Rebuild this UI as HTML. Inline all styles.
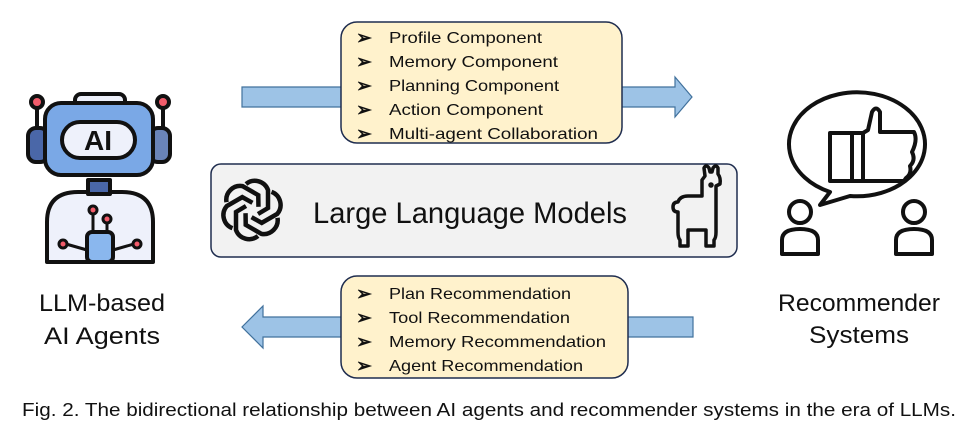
<!DOCTYPE html>
<html><head><meta charset="utf-8"><style>
html,body{margin:0;padding:0;background:#fff}
svg{display:block}
text{font-family:"Liberation Sans",sans-serif;fill:#111}
</style></head><body>
<svg width="975" height="428" viewBox="0 0 975 428" xmlns="http://www.w3.org/2000/svg">
<!-- top arrow -->
<polygon points="242,87 675,87 675,77 692,97 675,117 675,107 242,107" fill="#9dc3e6" stroke="#41719c" stroke-width="1.2"/>
<rect x="341" y="22" width="281" height="121" rx="16" fill="#fff2cc" stroke="#1f2d4f" stroke-width="1.5"/>
<g font-size="16">
<g font-size="19" font-weight="bold"><text x="356" y="44">➢</text><text x="356" y="68">➢</text><text x="356" y="92">➢</text><text x="356" y="116">➢</text><text x="356" y="140">➢</text></g>
<text x="389" y="43" textLength="153" lengthAdjust="spacingAndGlyphs">Profile Component</text>
<text x="389" y="67" textLength="169" lengthAdjust="spacingAndGlyphs">Memory Component</text>
<text x="389" y="91" textLength="170" lengthAdjust="spacingAndGlyphs">Planning Component</text>
<text x="389" y="115" textLength="154" lengthAdjust="spacingAndGlyphs">Action Component</text>
<text x="389" y="139" textLength="209" lengthAdjust="spacingAndGlyphs">Multi-agent Collaboration</text>
</g>
<!-- bottom arrow -->
<polygon points="693,317 263,317 263,306 242,327 263,348 263,337 693,337" fill="#9dc3e6" stroke="#41719c" stroke-width="1.2"/>
<rect x="341" y="276" width="287" height="102" rx="16" fill="#fff2cc" stroke="#1f2d4f" stroke-width="1.5"/>
<g font-size="16">
<g font-size="19" font-weight="bold"><text x="356" y="300">➢</text><text x="356" y="324">➢</text><text x="356" y="348">➢</text><text x="356" y="372">➢</text></g>
<text x="389" y="299" textLength="182" lengthAdjust="spacingAndGlyphs">Plan Recommendation</text>
<text x="389" y="323" textLength="181" lengthAdjust="spacingAndGlyphs">Tool Recommendation</text>
<text x="389" y="347" textLength="217" lengthAdjust="spacingAndGlyphs">Memory Recommendation</text>
<text x="389" y="371" textLength="194" lengthAdjust="spacingAndGlyphs">Agent Recommendation</text>
</g>
<!-- LLM box -->
<rect x="211" y="164" width="526" height="93" rx="10" fill="#f2f2f2" stroke="#1f2d4f" stroke-width="1.5"/>
<text x="313" y="223" font-size="30" textLength="314" lengthAdjust="spacingAndGlyphs">Large Language Models</text>
<!-- openai-like logo -->
<g transform="translate(252,210)" fill="none" stroke="#111" stroke-width="4.5">
<g id="pet"><path d="M-6,-26 a14,14 0 0 1 22,6 l0,18 l-10,6"/></g>
<use href="#pet" transform="rotate(60)"/><use href="#pet" transform="rotate(120)"/><use href="#pet" transform="rotate(180)"/><use href="#pet" transform="rotate(240)"/><use href="#pet" transform="rotate(300)"/>
</g>
<!-- llama -->
<g fill="none" stroke="#111" stroke-width="3.5" stroke-linejoin="round" stroke-linecap="round">
<path d="M705,176 l-1,-8 q2,-4 5,0 l1,4 l2,0 l1,-4 q3,-4 5,0 l0,6 q3,4 2,10 l-4,2 l0,46 q0,6 -2,8 l0,6 l-8,0 l0,-16 l-18,0 l0,16 l-8,0 l0,-6 q-2,-2 -2,-8 l0,-20 q-5,0 -5,-5 q0,-5 5,-5 q2,-6 10,-6 l14,0 l0,-16 z"/>
<circle cx="711" cy="185" r="1" fill="#111"/>
</g>
<!-- robot -->
<g stroke="#111" stroke-width="4" stroke-linejoin="round">
<line x1="37" y1="108" x2="37" y2="132"/><line x1="163" y1="108" x2="163" y2="132"/>
<circle cx="37" cy="102" r="6" fill="#f25c6b"/><circle cx="163" cy="102" r="6" fill="#f25c6b"/>
<rect x="28" y="128" width="20" height="34" rx="8" fill="#4a67a8"/>
<rect x="150" y="128" width="20" height="34" rx="8" fill="#6a84b8"/>
<path d="M47,262 L47,222 Q47,192 78,192 L122,192 Q153,192 153,222 L153,262 Z" fill="#eef1fb"/>
<rect x="88" y="180" width="22" height="14" fill="#4a67a8"/>
<rect x="75" y="94" width="50" height="14" rx="6" fill="#eef1fb"/>
<rect x="45" y="103" width="108" height="72" rx="16" fill="#7aa8e6"/>
<rect x="62" y="122" width="73" height="36" rx="18" fill="#eef1fb"/>
<rect x="87" y="232" width="26" height="30" rx="5" fill="#8ab7ee"/>
<path d="M93,232 L93,213 M107,232 L107,222 M87,250 L66,244 M113,250 L134,244" fill="none" stroke-width="3"/>
<circle cx="93" cy="210" r="4" fill="#f25c6b" stroke-width="3"/><circle cx="107" cy="219" r="4" fill="#f25c6b" stroke-width="3"/>
<circle cx="63" cy="244" r="4" fill="#f25c6b" stroke-width="3"/><circle cx="137" cy="244" r="4" fill="#f25c6b" stroke-width="3"/>
</g>
<text x="98" y="150" font-size="28" font-weight="bold" text-anchor="middle">AI</text>
<text x="102" y="311" font-size="24" text-anchor="middle" textLength="126" lengthAdjust="spacingAndGlyphs">LLM-based</text>
<text x="102" y="344" font-size="24" text-anchor="middle" textLength="116" lengthAdjust="spacingAndGlyphs">AI Agents</text>
<!-- recommender icon -->
<g fill="none" stroke="#111" stroke-width="4" stroke-linejoin="round">
<path d="M830,192 A68,52 0 1 1 850,196 L820,205 Z" fill="#fff"/>
<rect x="830" y="133" width="33" height="48"/>
<line x1="852" y1="133" x2="852" y2="181"/>
<path d="M863,133 L868,130 L872,112 Q876,105 880,112 L880,132 L914,132 Q918,140 912,152 Q916,160 910,166 Q912,174 906,178 L904,181 L863,181"/>
<circle cx="800" cy="212" r="11"/><path d="M782,254 L782,240 Q782,229 800,229 Q818,229 818,240 L818,254 Z"/>
<circle cx="914" cy="212" r="11"/><path d="M896,254 L896,240 Q896,229 914,229 Q932,229 932,240 L932,254 Z"/>
</g>
<text x="859" y="311" font-size="24" text-anchor="middle" textLength="162" lengthAdjust="spacingAndGlyphs">Recommender</text>
<text x="859" y="343" font-size="24" text-anchor="middle" textLength="100" lengthAdjust="spacingAndGlyphs">Systems</text>
<!-- caption -->
<text x="22" y="416" font-size="18" textLength="934" lengthAdjust="spacingAndGlyphs">Fig. 2.  The bidirectional relationship between AI agents and recommender systems in the era of LLMs.</text>
</svg>
</body></html>
